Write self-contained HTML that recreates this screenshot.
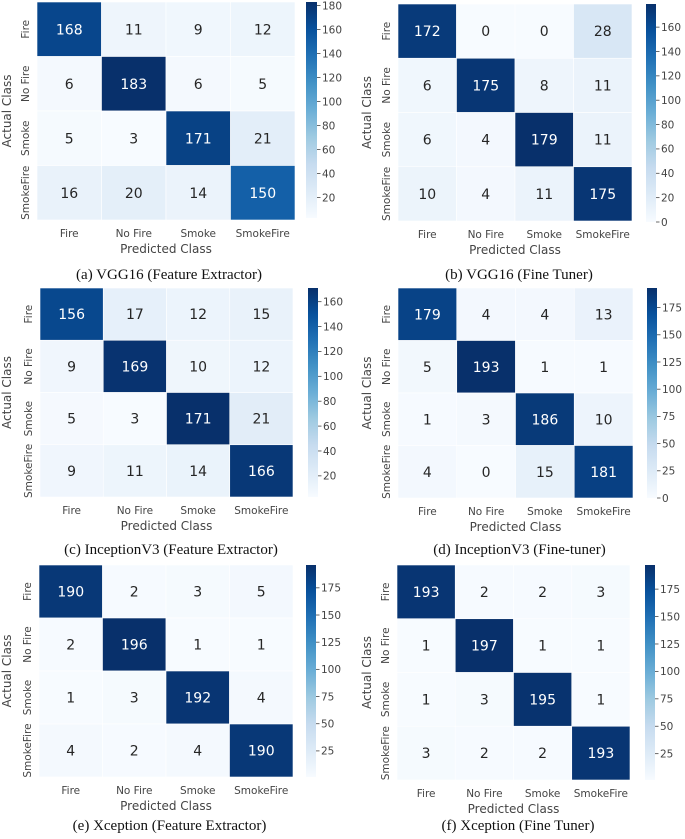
<!DOCTYPE html>
<html><head><meta charset="utf-8"><style>
html,body{margin:0;padding:0;background:#fff;width:685px;height:839px;overflow:hidden}
svg{display:block}
</style></head><body>
<svg id="fig" width="685" height="839" viewBox="0 0 685 839" xmlns="http://www.w3.org/2000/svg"></svg>
<script>
const categories = ["Fire","No Fire","Smoke","SmokeFire"];
const matA = [[168,11,9,12],[6,183,6,5],[5,3,171,21],[16,20,14,150]];
const matB = [[172,0,0,28],[6,175,8,11],[6,4,179,11],[10,4,11,175]];
const matC = [[156,17,12,15],[9,169,10,12],[5,3,171,21],[9,11,14,166]];
const matD = [[179,4,4,13],[5,193,1,1],[1,3,186,10],[4,0,15,181]];
const matE = [[190,2,3,5],[2,196,1,1],[1,3,192,4],[4,2,4,190]];
const matF = [[193,2,2,3],[1,197,1,1],[1,3,195,1],[3,2,2,193]];
const ticksA = [20,40,60,80,100,120,140,160,180];
const ticksB = [0,20,40,60,80,100,120,140,160];
const ticksC = [20,40,60,80,100,120,140,160];
const ticksD = [0,25,50,75,100,125,150,175];
const ticksE = [25,50,75,100,125,150,175];
const ticksF = [25,50,75,100,125,150,175];
const captions = ["(a) VGG16 (Feature Extractor)","(b) VGG16 (Fine Tuner)","(c) InceptionV3 (Feature Extractor)","(d) InceptionV3 (Fine-tuner)","(e) Xception (Feature Extractor)","(f) Xception (Fine Tuner)"];

// layout (pixel geometry, not data)
const layout = [
 {id:"a",m:matA,t:ticksA,x0:37,x1:295,y0:2,y1:220,cx0:306,cx1:317,cy0:2,cy1:218,yl:11,cap:279},
 {id:"b",m:matB,t:ticksB,x0:398,x1:632,y0:4,y1:221,cx0:646,cx1:656,cy0:4,cy1:222,yl:371,cap:279},
 {id:"c",m:matC,t:ticksC,x0:40,x1:293,y0:288,y1:497,cx0:308,cx1:318,cy0:288,cy1:497,yl:11,cap:554},
 {id:"d",m:matD,t:ticksD,x0:398,x1:633,y0:288,y1:498,cx0:647,cx1:657,cy0:288,cy1:498,yl:371,cap:554},
 {id:"e",m:matE,t:ticksE,x0:39,x1:293,y0:565,y1:777,cx0:306,cx1:316,cy0:565,cy1:777,yl:11,cap:830},
 {id:"f",m:matF,t:ticksF,x0:397,x1:630,y0:565,y1:780,cx0:645,cx1:655,cy0:565,cy1:780,yl:371,cap:830}
];
const stops=["#f7fbff","#deebf7","#c6dbef","#9ecae1","#6baed6","#4292c6","#2171b5","#08519c","#08306b"];
function hex(h){return [1,3,5].map(i=>parseInt(h.substr(i,2),16));}
function blues(f){f=Math.max(0,Math.min(1,f));const p=f*8,i=Math.min(7,Math.floor(p)),r=p-i;const a=hex(stops[i]),b=hex(stops[i+1]);const c=a.map((v,k)=>Math.round(v+(b[k]-v)*r));return `rgb(${c[0]},${c[1]},${c[2]})`;}
function lum(f){f=Math.max(0,Math.min(1,f));const p=f*8,i=Math.min(7,Math.floor(p)),r=p-i;const a=hex(stops[i]),b=hex(stops[i+1]);const c=a.map((v,k)=>(v+(b[k]-v)*r)/255).map(v=>v<=0.03928?v/12.92:Math.pow((v+0.055)/1.055,2.4));return 0.2126*c[0]+0.7152*c[1]+0.0722*c[2];}
const NS="http://www.w3.org/2000/svg";
const svg=document.getElementById("fig");
function el(tag,attrs,parent){const e=document.createElementNS(NS,tag);for(const k in attrs)e.setAttribute(k,attrs[k]);(parent||svg).appendChild(e);return e;}
const sans='"DejaVu Sans","Liberation Sans",sans-serif';
layout.forEach((L,pi)=>{
  const g=el("g",{});
  
  
  const flat=L.m.flat();const vmin=Math.min(...flat),vmax=Math.max(...flat);
  const n=categories.length;
  const xs=i=>L.x0+(L.x1-L.x0)*i/n, ys=i=>L.y0+(L.y1-L.y0)*i/n;
  const cw=(L.x1-L.x0)/n, ch=(L.y1-L.y0)/n;
  for(let r=0;r<n;r++)for(let c=0;c<n;c++){
    const v=L.m[r][c];const f=(v-vmin)/(vmax-vmin);
    const rect=el("rect",{x:xs(c),y:ys(r),width:cw,height:ch,fill:blues(f),stroke:"#fff","stroke-width":0.6},g);
    
    
    const t=el("text",{x:xs(c)+cw/2,y:ys(r)+ch/2+5,"text-anchor":"middle","font-family":sans,"font-size":14,fill:lum(f)<0.408?"#fff":"#262626"},g);
    t.textContent=v;
    
    
  }
  categories.forEach((c,i)=>{
    const tx=el("text",{x:xs(i)+cw/2,y:L.y1+17,"text-anchor":"middle","font-family":sans,"font-size":10.5,fill:"#444"},g);
    tx.textContent=c;
    
    
    const yy=ys(i)+ch/2, xx=L.x0-8;
    const ty=el("text",{x:xx,y:yy,"text-anchor":"middle","font-family":sans,"font-size":10.5,fill:"#444",transform:`rotate(-90 ${xx} ${yy})`},g);
    ty.textContent=c;
    
    
  });
  const xl=el("text",{x:(L.x0+L.x1)/2,y:L.y1+33,"text-anchor":"middle","font-family":sans,"font-size":12,fill:"#444"},g);
  xl.textContent="Predicted Class";
  
  
  const ym=(L.y0+L.y1)/2;
  const yl=el("text",{x:L.yl,y:ym,"text-anchor":"middle","font-family":sans,"font-size":12,fill:"#444",transform:`rotate(-90 ${L.yl} ${ym})`},g);
  yl.textContent="Actual Class";
  
  
  // colorbar
  const gid="grad"+L.id;
  const defs=el("defs",{},g);
  const lg=el("linearGradient",{id:gid,x1:0,y1:1,x2:0,y2:0},defs);
  for(let k=0;k<=8;k++)el("stop",{offset:k/8,"stop-color":stops[k]},lg);
  const cb=el("rect",{x:L.cx0,y:L.cy0,width:L.cx1-L.cx0,height:L.cy1-L.cy0,fill:`url(#${gid})`},g);
  
  
  const cy=v=>L.cy1-(v-vmin)/(vmax-vmin)*(L.cy1-L.cy0);
  L.t.forEach(v=>{
    const y=cy(v);
    el("line",{x1:L.cx1,x2:L.cx1+3.5,y1:y,y2:y,stroke:"#444","stroke-width":0.8},g);
    const tt=el("text",{x:L.cx1+5,y:y+3.8,"font-family":sans,"font-size":10.5,fill:"#444"},g);
    tt.textContent=v;
    
    
  });
  const cap=el("text",{x:(L.x0+L.cx1)/2-8,y:L.cap,"text-anchor":"middle","font-family":'"Liberation Serif",serif',"font-size":15,fill:"#111"},g);
  cap.textContent=captions[pi];
  
  
});
</script>
</body></html>
